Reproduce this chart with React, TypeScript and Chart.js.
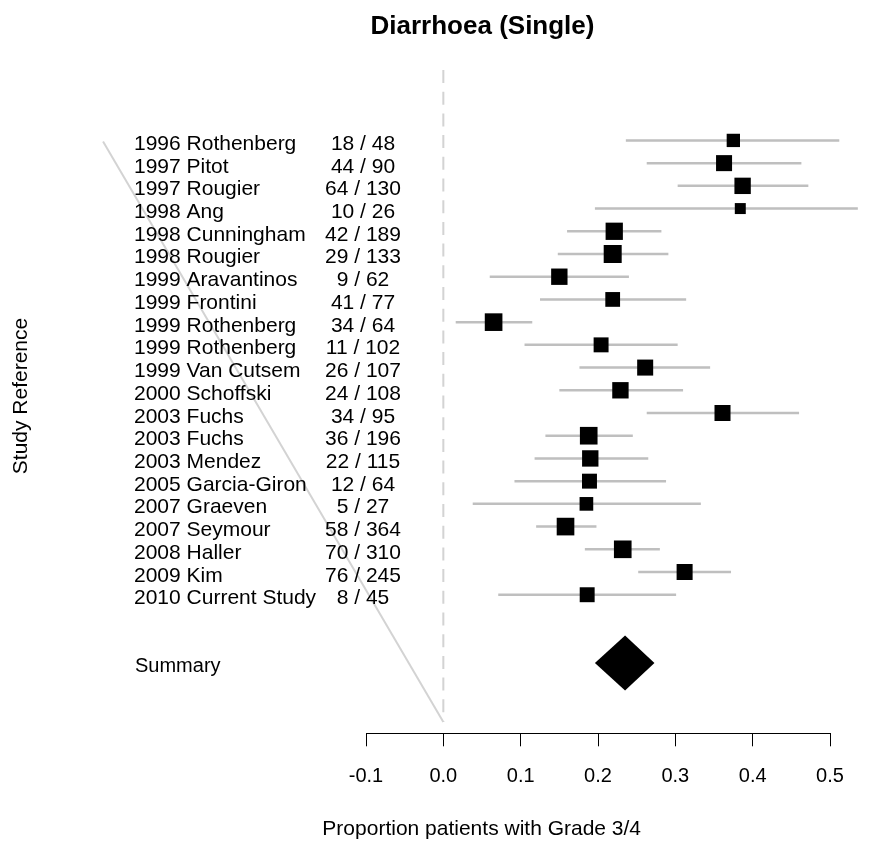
import { useEffect, useRef } from "react";
import { Chart, registerables } from "chart.js";

Chart.register(...registerables);

const chartTitle = "Diarrhoea (Single)";
const yAxisLabel = "Study Reference";
const xAxisLabel = "Proportion patients with Grade 3/4";

const studies = [
  "1996 Rothenberg",
  "1997 Pitot",
  "1997 Rougier",
  "1998 Ang",
  "1998 Cunningham",
  "1998 Rougier",
  "1999 Aravantinos",
  "1999 Frontini",
  "1999 Rothenberg",
  "1999 Rothenberg",
  "1999 Van Cutsem",
  "2000 Schoffski",
  "2003 Fuchs",
  "2003 Fuchs",
  "2003 Mendez",
  "2005 Garcia-Giron",
  "2007 Graeven",
  "2007 Seymour",
  "2008 Haller",
  "2009 Kim",
  "2010 Current Study",
];
const events = [18, 44, 64, 10, 42, 29, 9, 41, 34, 11, 26, 24, 34, 36, 22, 12, 5, 58, 70, 76, 8];
const totals = [48, 90, 130, 26, 189, 133, 62, 77, 64, 102, 107, 108, 95, 196, 115, 64, 27, 364, 310, 245, 45];
const estimates = [
  0.375, 0.363, 0.387, 0.384, 0.221, 0.219, 0.15, 0.219, 0.065, 0.204, 0.261,
  0.229, 0.361, 0.188, 0.19, 0.189, 0.185, 0.158, 0.232, 0.312, 0.186,
];
const lower = [
  0.236, 0.263, 0.303, 0.196, 0.16, 0.148, 0.06, 0.125, 0.016, 0.105, 0.176,
  0.15, 0.263, 0.132, 0.118, 0.092, 0.038, 0.12, 0.183, 0.252, 0.071,
];
const upper = [
  0.512, 0.463, 0.472, 0.536, 0.282, 0.291, 0.24, 0.314, 0.115, 0.303, 0.345,
  0.31, 0.46, 0.245, 0.265, 0.288, 0.333, 0.198, 0.28, 0.372, 0.301,
];
const weights = [
  0.74, 0.89, 0.91, 0.61, 0.96, 1.0, 0.91, 0.82, 0.98, 0.83, 0.89, 0.91, 0.89,
  0.98, 0.91, 0.83, 0.76, 0.98, 0.98, 0.89, 0.83,
];
const summaryLabel = "Summary";
const summaryEstimate = 0.235;
const summaryLower = 0.196;
const summaryUpper = 0.273;
const summaryRow = 24;
const xTicks = [-0.1, 0.0, 0.1, 0.2, 0.3, 0.4, 0.5];
const refLineX = [0, 0];
const refLineRows = [-2.1, 26.6];
const diagonalX = [-0.44, 0];
const diagonalRows = [1.05, 26.6];

// styles
const FONT = "'Liberation Sans', Arial, Helvetica, sans-serif";
const MAX_BOX = 18;
const DIAMOND_HALF_H = 27.5;
const LABEL_PX = 134;
const COUNT_PX = 363;
const TEXT_DY = 9.5;

const rows = studies.map((_, i) => i + 1);

const textPlugin = {
  id: "forestText",
  afterDatasetsDraw(chart: any) {
    const { ctx } = chart;
    const x = chart.scales.x;
    const y = chart.scales.y;
    ctx.save();
    // summary diamond
    const yc = y.getPixelForValue(summaryRow);
    ctx.beginPath();
    ctx.moveTo(x.getPixelForValue(summaryLower), yc);
    ctx.lineTo(x.getPixelForValue(summaryEstimate), yc - DIAMOND_HALF_H);
    ctx.lineTo(x.getPixelForValue(summaryUpper), yc);
    ctx.lineTo(x.getPixelForValue(summaryEstimate), yc + DIAMOND_HALF_H);
    ctx.closePath();
    ctx.fillStyle = "#000";
    ctx.fill();

    ctx.fillStyle = "#000";
    ctx.font = `21px ${FONT}`;
    ctx.textBaseline = "alphabetic";
    studies.forEach((s, i) => {
      const py = y.getPixelForValue(rows[i]) + TEXT_DY;
      ctx.textAlign = "left";
      ctx.fillText(s, LABEL_PX, py);
      ctx.textAlign = "center";
      ctx.fillText(`${events[i]} / ${totals[i]}`, COUNT_PX, py);
    });
    ctx.font = `20px ${FONT}`;
    ctx.textAlign = "left";
    ctx.fillText(summaryLabel, LABEL_PX + 1, yc + TEXT_DY);

    // title
    ctx.font = `bold 26px ${FONT}`;
    ctx.textAlign = "center";
    ctx.fillText(chartTitle, 482.5, 34);

    // x label
    ctx.font = `21px ${FONT}`;
    ctx.textAlign = "center";
    ctx.fillText(xAxisLabel, 481.7, 835);

    // y label
    ctx.translate(27, 396);
    ctx.rotate(-Math.PI / 2);
    ctx.textAlign = "center";
    ctx.fillText(yAxisLabel, 0, 0);
    ctx.restore();
  },
};

export default function App() {
  const ref = useRef<HTMLCanvasElement | null>(null);
  useEffect(() => {
    if (!ref.current) return;
    const ciData: any[] = [];
    rows.forEach((r, i) => {
      ciData.push({ x: lower[i], y: r });
      ciData.push({ x: upper[i], y: r });
      ciData.push({ x: upper[i], y: null });
    });
    const chart = new Chart(ref.current, {
      type: "scatter",
      data: {
        datasets: [
          {
            type: "scatter",
            data: rows.map((r, i) => ({ x: estimates[i], y: r })),
            pointStyle: "rect",
            pointRadius: (c: any) => (weights[c.dataIndex] * MAX_BOX) / Math.SQRT2,
            backgroundColor: "#000",
            borderWidth: 0,
            clip: false,
            order: 0,
          } as any,
          {
            type: "line",
            data: ciData,
            borderColor: "#bfbfbf",
            borderWidth: 2.5,
            pointRadius: 0,
            spanGaps: false,
            fill: false,
            clip: false,
            order: 1,
          } as any,
          {
            type: "line",
            data: refLineX.map((v, i) => ({ x: v, y: refLineRows[i] })),
            borderColor: "#d3d3d3",
            borderWidth: 2,
            borderDash: [13, 8.7],
            pointRadius: 0,
            fill: false,
            clip: false,
            order: 2,
          } as any,
          {
            type: "line",
            data: diagonalX.map((v, i) => ({ x: v, y: diagonalRows[i] })),
            borderColor: "#d3d3d3",
            borderWidth: 2,
            pointRadius: 0,
            fill: false,
            clip: false,
            order: 3,
          } as any,
        ],
      },
      options: {
        responsive: false,
        animation: false,
        events: [],
        devicePixelRatio: 1,
        layout: { padding: { left: 366, right: 52, top: 70, bottom: 37.7 } },
        plugins: { legend: { display: false }, tooltip: { enabled: false }, title: { display: false } },
        scales: {
          x: {
            type: "linear",
            position: "bottom",
            min: -0.1,
            max: 0.5,
            afterBuildTicks: (s: any) => {
              s.ticks = xTicks.map((v) => ({ value: v }));
            },
            ticks: {
              color: "#000",
              font: { family: FONT, size: 20 },
              padding: 18,
              maxRotation: 0,
              callback: (v: any) => Number(v).toFixed(1),
            },
            grid: {
              display: true,
              drawOnChartArea: false,
              drawTicks: true,
              tickLength: 13,
              color: "#000",
              lineWidth: 1,
            },
            border: { display: true, color: "#000", width: 1 },
            title: { display: false },
          },
          y: {
            type: "linear",
            display: false,
            reverse: true,
            min: -2.1,
            max: 27.1,
          },
        },
      },
      plugins: [textPlugin],
    } as any);
    return () => chart.destroy();
  }, []);
  return (
    <div style={{ position: "absolute", left: 0, top: 0 }}>
      <canvas ref={ref} width={882} height={844} style={{ display: "block" }} />
    </div>
  );
}
